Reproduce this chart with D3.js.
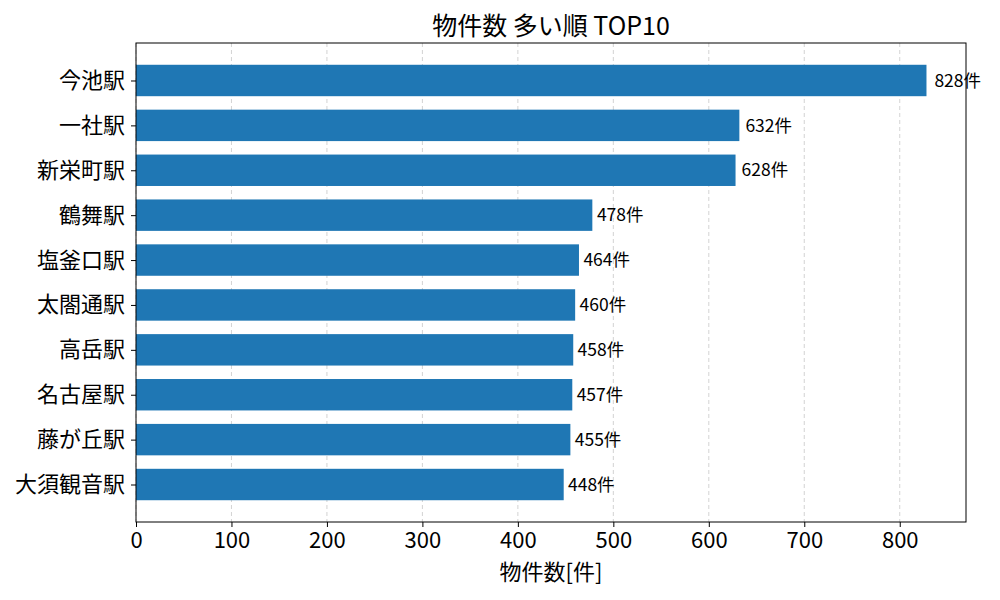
<!DOCTYPE html>
<html>
<head>
<meta charset="utf-8">
<script src="https://cdn.jsdelivr.net/npm/d3@7"></script>
<style>
  body { margin: 0; background: #fff; }
  svg { font-family: "Noto Sans CJK JP", "Noto Sans", sans-serif; }
</style>
</head>
<body>
<div id="chart"></div>
<script>
const stations = ["今池駅", "一社駅", "新栄町駅", "鶴舞駅", "塩釜口駅", "太閤通駅", "高岳駅", "名古屋駅", "藤が丘駅", "大須観音駅"];
const counts = [828, 632, 628, 478, 464, 460, 458, 457, 455, 448];
const xTicks = [0, 100, 200, 300, 400, 500, 600, 700, 800];

const width = 1000, height = 600;
const margin = { top: 43, right: 34, bottom: 78, left: 136 };
const innerW = width - margin.left - margin.right;
const innerH = height - margin.top - margin.bottom;

const svg = d3.select("#chart").append("svg")
  .attr("width", width)
  .attr("height", height);

const g = svg.append("g").attr("transform", `translate(${margin.left},${margin.top})`);

// matplotlib style: 5% margin on x max, bars 0.7 tall with 5% padding on y
const maxVal = d3.max(counts);
const x = d3.scaleLinear().domain([0, maxVal * 1.05]).range([0, innerW]);
const barH = 0.7;
const yLo = -barH / 2, yHi = stations.length - 1 + barH / 2;
const pad = (yHi - yLo) * 0.05;
const y = d3.scaleLinear().domain([yLo - pad, yHi + pad]).range([0, innerH]);

// grid
g.append("g").selectAll("line")
  .data(xTicks)
  .enter().append("line")
  .attr("x1", d => x(d)).attr("x2", d => x(d))
  .attr("y1", 0).attr("y2", innerH)
  .attr("stroke", "#b0b0b0")
  .attr("stroke-opacity", 0.7)
  .attr("stroke-width", 0.8)
  .attr("stroke-dasharray", "4,3");

// bars
g.append("g").selectAll("rect")
  .data(counts)
  .enter().append("rect")
  .attr("x", x(0))
  .attr("y", (d, i) => y(i - barH / 2))
  .attr("width", d => x(d) - x(0))
  .attr("height", y(barH) - y(0))
  .attr("fill", "#1f77b4");

// frame
g.append("rect")
  .attr("width", innerW).attr("height", innerH)
  .attr("fill", "none").attr("stroke", "#000").attr("stroke-width", 1);

// value labels (placed at 1% past the bar end)
g.append("g").selectAll("text")
  .data(counts)
  .enter().append("text")
  .attr("x", d => x(d * 1.01))
  .attr("y", (d, i) => y(i))
  .attr("dy", "0.35em")
  .attr("font-size", 17.5)
  .attr("fill", "#000")
  .text(d => `${d}件`);

// x axis
const xAxis = g.append("g")
  .attr("transform", `translate(0,${innerH})`)
  .call(d3.axisBottom(x).tickValues(xTicks).tickSize(5).tickPadding(5));
xAxis.select(".domain").remove();
xAxis.selectAll("text").attr("font-size", 22).attr("fill", "#000")
  .attr("font-family", "'Noto Sans CJK JP', sans-serif");
xAxis.selectAll("line").attr("stroke", "#000");

// y axis
const yAxis = g.append("g")
  .call(d3.axisLeft(y).tickValues(d3.range(stations.length)).tickFormat(i => stations[i]).tickSize(5).tickPadding(6));
yAxis.select(".domain").remove();
yAxis.selectAll("text").attr("font-size", 22).attr("fill", "#000")
  .attr("font-family", "'Noto Sans CJK JP', sans-serif");
yAxis.selectAll("line").attr("stroke", "#000");

// title
svg.append("text")
  .attr("x", margin.left + innerW / 2)
  .attr("y", 35)
  .attr("text-anchor", "middle")
  .attr("font-size", 25)
  .text("物件数 多い順 TOP10");

// x label
svg.append("text")
  .attr("x", margin.left + innerW / 2)
  .attr("y", 580)
  .attr("text-anchor", "middle")
  .attr("font-size", 22)
  .text("物件数[件]");
</script>
</body>
</html>
